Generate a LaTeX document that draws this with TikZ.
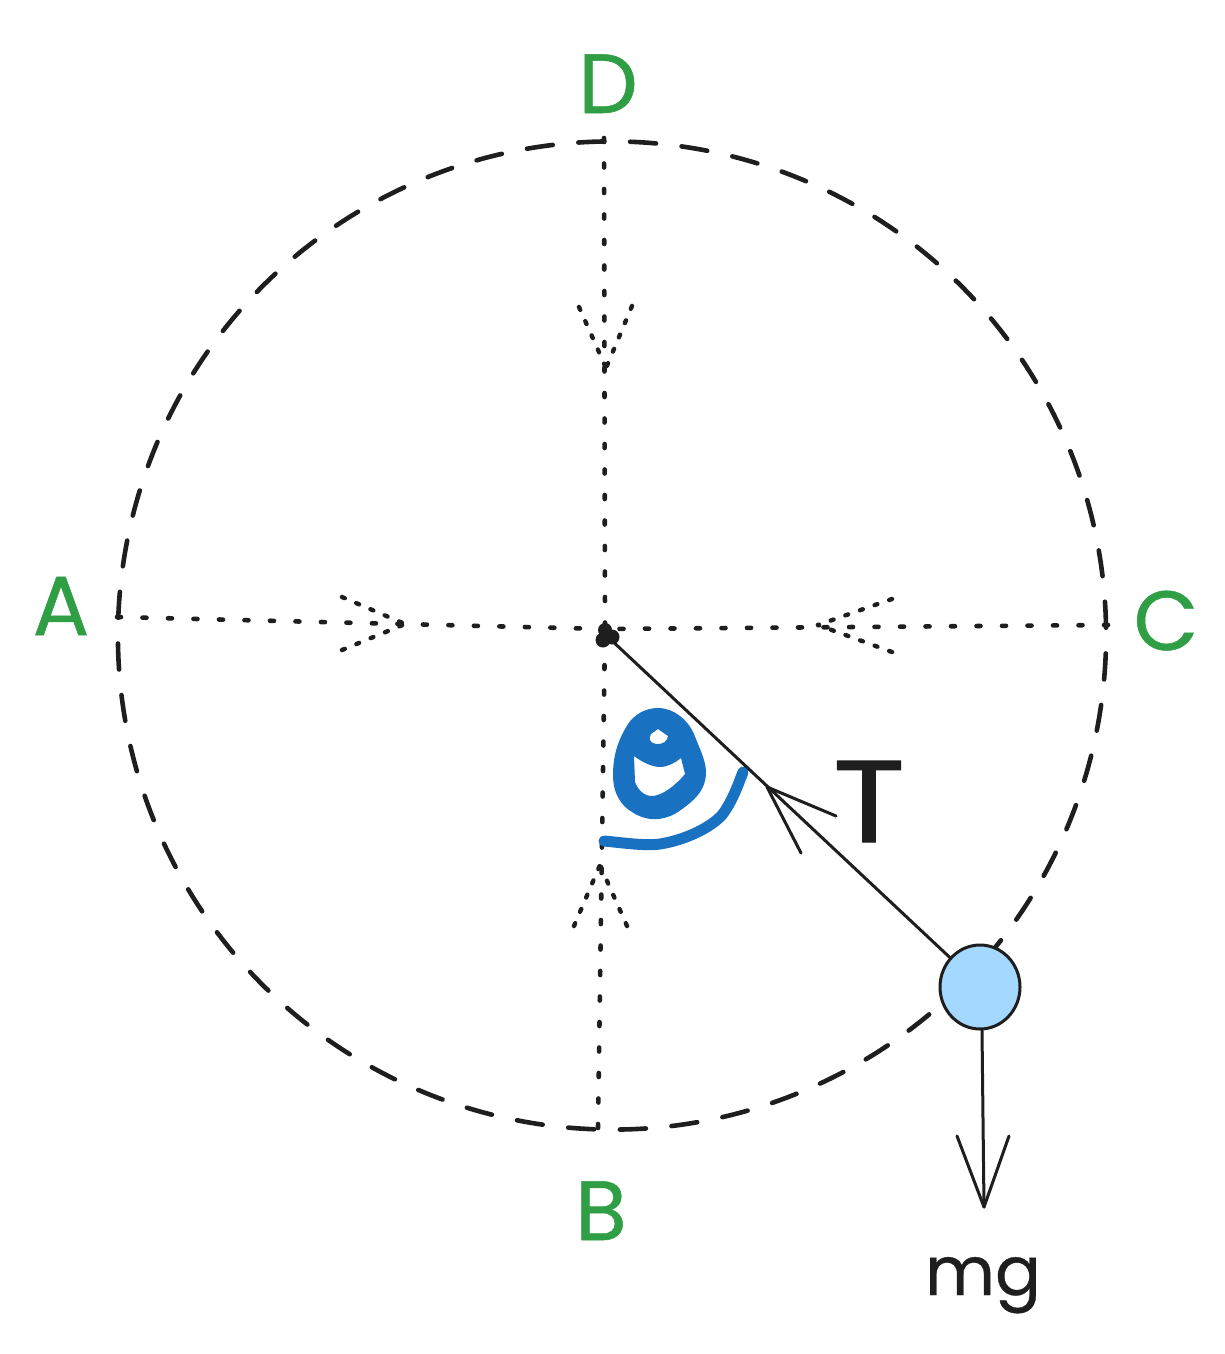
\documentclass[tikz,border=0pt]{standalone}
\usepackage{fontspec}
\setmainfont{Poppins}
\usetikzlibrary{calc}
\definecolor{ink}{HTML}{1E1E1E}
\definecolor{grn}{HTML}{2F9E44}
\definecolor{blu}{HTML}{1971C2}
\definecolor{ballfill}{HTML}{A5D8FF}
\tikzset{
  rimline/.style={draw=ink,line width=4.6pt,dash pattern=on 26pt off 25.73pt,line cap=round},
  dotline/.style={draw=ink,line width=4.6pt,line cap=round,dash pattern=on 4pt off 21.5pt},
  headdots/.style={draw=ink,line width=4.4pt,line cap=round,dash pattern=on 3pt off 12.5pt},
  thinline/.style={draw=ink,line width=3pt,line cap=round,line join=round},
  ptlabel/.style={text=grn,font=\fontsize{84}{84}\selectfont\addfontfeatures{FakeBold=0.6},anchor=base,inner sep=0pt},
  inklabel/.style={text=ink,anchor=base,inner sep=0pt},
}
\begin{document}
\begin{tikzpicture}[x=1pt,y=-1pt]
\useasboundingbox (0,0) rectangle (1225,1354);
\fill[white] (0,0) rectangle (1225,1354);
% rim
\coordinate (rimc) at (612,635.5);
\draw[rimline] (rimc) ++(-117.9:494) arc[start angle=-117.9,end angle=242.1,radius=494];
% anchors
\coordinate (hub) at (605,629);
\coordinate (pA) at (117,617);
\coordinate (pC) at (1108,625);
\coordinate (pD) at (604,138);
\coordinate (pB) at (598,1128);
% dotted spokes
\draw[dotline] (pA) -- (hub);
\draw[dotline] (pC) -- (hub);
\draw[dotline] (pD) -- (hub);
\draw[dotline] (pB) -- (hub);
% dotted arrowheads
\coordinate (tA) at (405,624);
\draw[headdots] (342,597) -- (tA);
\draw[headdots] (342,650) -- (tA);
\coordinate (tC) at (818,625);
\draw[headdots] (892,599) -- (tC);
\draw[headdots] (892,652) -- (tC);
\coordinate (tD) at (606,368);
\draw[headdots] (579,307) -- (tD);
\draw[headdots] (632,306) -- (tD);
\coordinate (tB) at (600,865);
\draw[headdots] (574,926) -- (tB);
\draw[headdots] (627,926) -- (tB);
% hub blob
\fill[ink] (605,630) circle (7pt) (603,640) circle (7.5pt) (612,637) circle (7.5pt);
% theta
\fill[blu,even odd rule]
  (658,708) .. controls (645,708) and (634,715) .. (628,724)
  .. controls (620,737) and (613,752) .. (613,775)
  .. controls (613,795) and (622,806) .. (632,812)
  .. controls (645,821) and (662,822) .. (678,812)
  .. controls (692,802) and (706,792) .. (706,772)
  .. controls (706,760) and (698,745) .. (694,734)
  .. controls (688,720) and (674,708) .. (658,708) -- cycle
  (658,729) -- (668,736) .. controls (668,741) and (662,745) .. (656,744)
  .. controls (650,743) and (648,739) .. (651,734) -- cycle
  (634,756) .. controls (642,762) and (652,767) .. (660,767)
  .. controls (668,767) and (676,762) .. (681,758) -- (685,774)
  .. controls (676,785) and (662,796) .. (652,796)
  .. controls (644,796) and (638,790) .. (635,782) -- cycle;
\draw[blu,line width=11pt,line cap=round] (604,841)
  .. controls (625,843) and (645,846) .. (660,844)
  .. controls (685,840) and (710,828) .. (722,815)
  .. controls (732,802) and (738,785) .. (743,772);
% ball and tension
\node[circle,draw=ink,fill=ballfill,line width=3pt,minimum width=80pt,minimum height=80pt,inner sep=0pt,yscale=1.05] (ball) at (980,987) {};
\coordinate (tT) at (767,787);
\coordinate (hubb) at (608,637);
\draw[thinline] (hubb) -- (ball.137);
\draw[thinline] (836,816) -- (tT) -- (801,853);
% gravity
\coordinate (tG) at (984,1207);
\draw[thinline] (ball.south) ++(2,0) -- (tG);
\draw[thinline] (957,1136) -- (tG) -- (1009,1136);
% labels
\node[ptlabel] (lA) at (61,635) {A};
\node[ptlabel] (lB) at (601,1240) {B};
\node[ptlabel] (lC) at (1166,650) {C};
\node[ptlabel] (lD) at (608,113) {D};
\node[inklabel,font=\fontsize{116}{116}\selectfont\addfontfeatures{FakeBold=1.2,FakeStretch=1.15}] (lT) at (869,842) {T};
\node[inklabel,font=\fontsize{68}{68}\selectfont\addfontfeatures{FakeBold=0.5}] (lmg) at (983,1295) {mg};
\end{tikzpicture}
\end{document}
